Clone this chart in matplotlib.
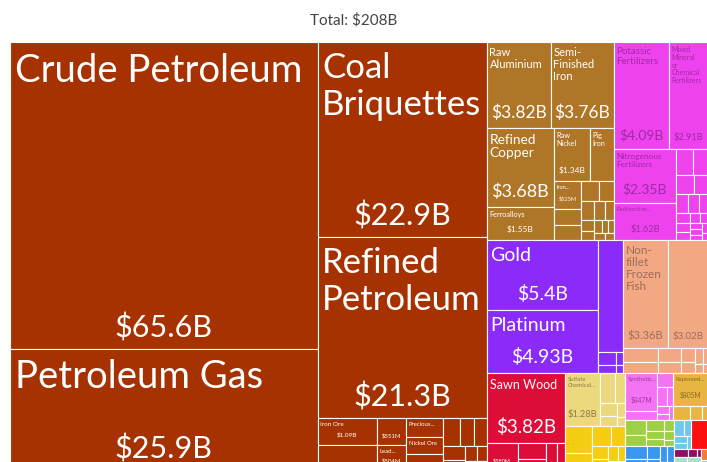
import matplotlib
matplotlib.use("Agg")
import matplotlib.pyplot as plt
from matplotlib.patches import Rectangle

PHI = (1 + 5 ** 0.5) / 2

# ---- data: export value in billions USD, one list pair per section ----
minerals_names = ["Crude Petroleum", "Petroleum Gas", "Coal\nBriquettes", "Refined\nPetroleum",
                  "Iron Ore", "", "", "Lead...", "Precious...", "Nickel Ore",
                  "", "", "", "", "", "", "", "", "", ""]
minerals_values = [65.6, 25.9, 22.9, 21.3, 1.09, 1.05, 0.551, 0.504, 0.48, 0.45,
                   0.4, 0.32, 0.28, 0.25, 0.2, 0.15, 0.12, 0.1, 0.08, 0.06]

metals_names = ["Raw\nAluminium", "Semi-\nFinished\nIron", "Refined\nCopper", "Ferroalloys",
                "Raw\nNickel", "Pig\nIron", "Iron...", "", "", "", "", "", "", "", "", "", "", "", "",
                "", ""]
metals_values = [3.82, 3.76, 3.68, 1.55, 1.34, 0.87, 0.525, 0.32, 0.28, 0.24, 0.2, 0.17,
                 0.15, 0.12, 0.1, 0.08, 0.07, 0.06, 0.05, 0.05, 0.04]

chemicals_names = ["Potassic\nFertilizers", "Mixed\nMineral\nor\nChemical\nFertilizers",
                   "Nitrogenous\nFertilizers", "Radioactive...",
                   "", "", "", "", "", "", "", "", "", "", "", "", "", "", "", "", ""]
chemicals_values = [4.09, 2.91, 2.35, 1.62, 0.32, 0.27, 0.22, 0.18, 0.16, 0.14, 0.12,
                    0.1, 0.09, 0.08, 0.07, 0.06, 0.05, 0.05, 0.04, 0.04, 0.03]

precious_names = ["Gold", "Platinum", "", "", "", "", ""]
precious_values = [5.4, 4.93, 1.9, 0.15, 0.1, 0.06, 0.04]

animal_names = ["Non-\nfillet\nFrozen\nFish", "", "", "", "", "", "", "", "", "", "", ""]
animal_values = [3.36, 3.02, 0.34, 0.28, 0.23, 0.18, 0.14, 0.11, 0.08, 0.06, 0.05, 0.03]

wood_names = ["Sawn Wood", "", "", "", "", "", ""]
wood_values = [3.82, 0.58, 0.3, 0.22, 0.15, 0.12, 0.1]

paper_names = ["Sulfate\nChemical...", "", "", "", "", "", ""]
paper_values = [1.28, 0.3, 0.22, 0.15, 0.12, 0.08, 0.05]

vegetable_names = ["", "", "", "", "", "", "", "", "", ""]
vegetable_values = [0.5, 0.32, 0.26, 0.2, 0.15, 0.12, 0.1, 0.08, 0.06, 0.05]

plastics_names = ["Synthetic...", "", "", "", "", "", "", ""]
plastics_values = [0.847, 0.2, 0.15, 0.12, 0.08, 0.06, 0.05, 0.04]

byproducts_names = ["Rapeseed...", "", "", ""]
byproducts_values = [0.805, 0.17, 0.12, 0.06]

foodstuffs_values = [0.21, 0.16, 0.13, 0.1, 0.09, 0.07, 0.06, 0.04]
machines_values = [0.2, 0.16, 0.12, 0.1, 0.08, 0.07, 0.05, 0.03]
transport_values = [0.12, 0.08, 0.06, 0.05, 0.04]
red_values = [0.33]
instruments_values = [0.08, 0.05, 0.02]
textiles_values = [0.12, 0.08, 0.05]
orange_values = [0.06]
gray_values = [0.05]

sections = [
    ("#A53200", "white", minerals_names, minerals_values),
    ("#AF7628", "white", metals_names, metals_values),
    ("#EE42EE", "#9E2BA3", chemicals_names, chemicals_values),
    ("#8A2BFA", "white", precious_names, precious_values),
    ("#F1A883", "#9B6E5A", animal_names, animal_values),
    ("#DD0D38", "white", wood_names, wood_values),
    ("#ECD87D", "#8C7D44", paper_names, paper_values),
    ("#F5CD12", "#8C7412", vegetable_names, vegetable_values),
    ("#F472F4", "#A03AA0", plastics_names, plastics_values),
    ("#E8B542", "#8C6A22", byproducts_names, byproducts_values),
    ("#9DD046", "white", [""] * len(foodstuffs_values), foodstuffs_values),
    ("#3897F0", "white", [""] * len(machines_values), machines_values),
    ("#6CC8EE", "white", [""] * len(transport_values), transport_values),
    ("#FF1010", "white", [""], red_values),
    ("#8E1066", "white", [""] * len(instruments_values), instruments_values),
    ("#A8E0C8", "white", [""] * len(textiles_values), textiles_values),
    ("#F27A3A", "white", [""], orange_values),
    ("#B8B8CC", "white", [""], gray_values),
]

# label font sizes (name, value) in points; 0 = hidden
label_style = {
    "Crude Petroleum": (27.5, 22), "Petroleum Gas": (27.5, 22),
    "Coal\nBriquettes": (25, 22), "Refined\nPetroleum": (25, 22),
    "Iron Ore": (4.6, 4.6), "$551M": (0, 4.3), "Lead...": (4.3, 4.3),
    "Precious...": (4.3, 0), "Nickel Ore": (4.3, 0),
    "Raw\nAluminium": (8, 12.5), "Semi-\nFinished\nIron": (8, 12.5),
    "Refined\nCopper": (9.8, 13), "Ferroalloys": (5.3, 6),
    "Raw\nNickel": (5.3, 6), "Pig\nIron": (5.3, 0), "Iron...": (4, 4),
    "Potassic\nFertilizers": (7, 10), "Mixed\nMineral\nor\nChemical\nFertilizers": (5, 6.7),
    "Nitrogenous\nFertilizers": (6, 10), "Radioactive...": (4.3, 6.7),
    "Gold": (14, 14), "Platinum": (14, 14),
    "Non-\nfillet\nFrozen\nFish": (8.5, 8), "$3.02B": (0, 7),
    "Sawn Wood": (9, 13.5), "$580M": (0, 4),
    "Sulfate\nChemical...": (4.3, 6.7), "Synthetic...": (4.3, 4.8), "Rapeseed...": (4.3, 4.8),
}


def fmt(v):
    if v >= 1:
        return f"${v:.3g}B"
    return f"${v * 1000:.0f}M"


def squarify(values, x0, y0, x1, y1, ratio=PHI):
    # d3.treemapSquarify, golden ratio
    rects = []
    total = float(sum(values))
    i0, n = 0, len(values)
    while i0 < n:
        dx, dy = x1 - x0, y1 - y0
        s = values[i0]
        vmin = vmax = s
        alpha = max(dy / dx, dx / dy) / (total * ratio)
        beta = s * s * alpha
        best = max(vmax / beta, beta / vmin)
        i1 = i0 + 1
        while i1 < n:
            v = values[i1]
            s2 = s + v
            mn, mx = min(vmin, v), max(vmax, v)
            beta = s2 * s2 * alpha
            r = max(mx / beta, beta / mn)
            if r > best:
                break
            s, vmin, vmax, best = s2, mn, mx, r
            i1 += 1
        if dx < dy:
            h = dy * s / total
            xx = x0
            for v in values[i0:i1]:
                w = dx * v / s
                rects.append((xx, y0, w, h))
                xx += w
            y0 += h
        else:
            w = dx * s / total
            yy = y0
            for v in values[i0:i1]:
                h = dy * v / s
                rects.append((x0, yy, w, h))
                yy += h
            x0 += w
        total -= s
        i0 = i1
    return rects


W, H = 698.0, 428.0
fig = plt.figure(figsize=(7.07, 4.62), dpi=100)
ax = fig.add_axes([10 / 707, (462 - 42 - H) / 462, W / 707, H / 462])
ax.set_xlim(0, W)
ax.set_ylim(H, 0)
ax.axis("off")

FONT = "Lato"
PX = 100 / 72.0

group_totals = [sum(sec[3]) for sec in sections]
grand = sum(group_totals)
fig.text(0.5, 1 - 20 / 462, f"Total: {fmt(grand)}", ha="center", va="center",
         fontsize=11, color="#444444", family=FONT)

for (color, tcolor, names, vals), (gx, gy, gw, gh) in zip(sections, squarify(group_totals, 0, 0, W, H)):
    for name, v, (x, y, w, h) in zip(names, vals, squarify(vals, gx, gy, gx + gw, gy + gh)):
        ax.add_patch(Rectangle((x, y), w, h, facecolor=color, edgecolor="white", lw=0.8))
        key = name if name else fmt(v)
        if key not in label_style:
            continue
        nfs, vfs = label_style[key]
        if nfs:
            ls = 1.2 if nfs > 12 else 1.1
            ax.text(x + 2 + 0.07 * nfs * PX, y + 3 + 0.2 * nfs * PX, name, ha="left", va="top",
                    fontsize=nfs, color=tcolor, family=FONT, linespacing=ls, clip_on=True)
        if vfs:
            ax.text(x + w / 2, y + h - 7 - 0.15 * vfs * PX, fmt(v), ha="center", va="baseline",
                    fontsize=vfs, color=tcolor, family=FONT, clip_on=True)

fig.savefig("out.png", dpi=100)
